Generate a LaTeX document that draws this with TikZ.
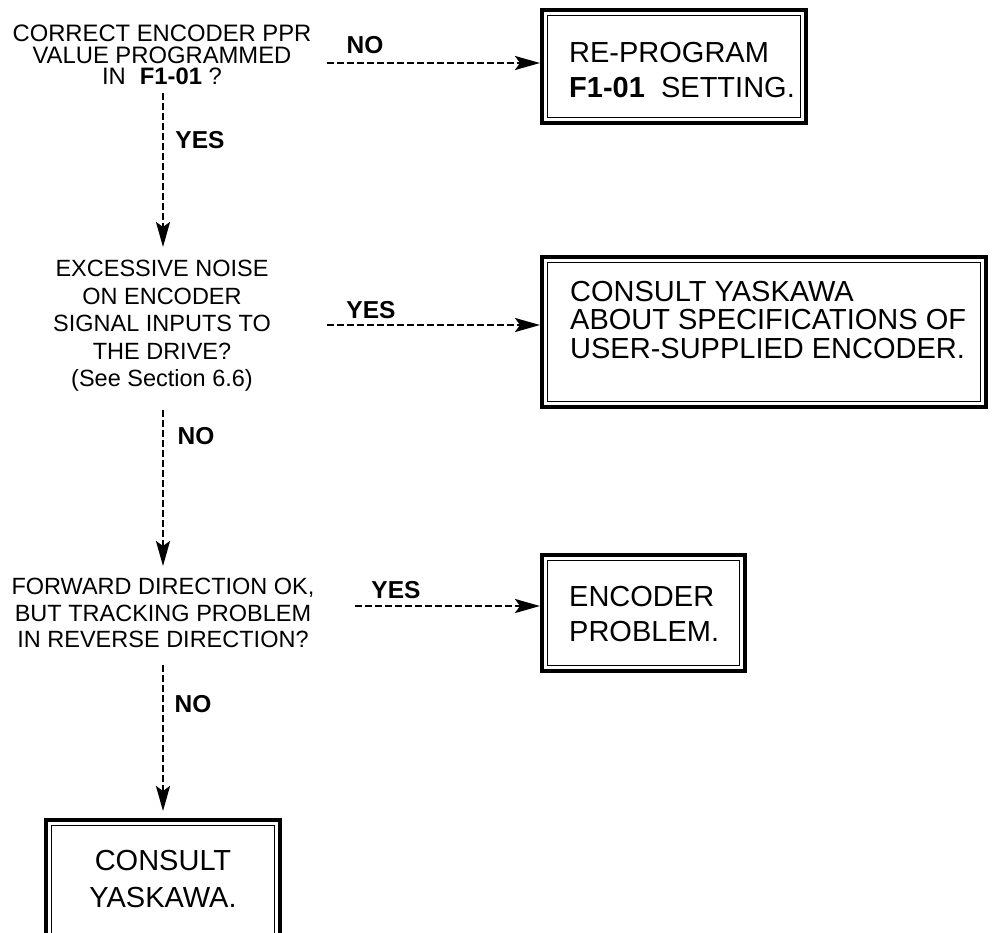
\documentclass[tikz,border=0pt]{standalone}
\usepackage{fontspec}
\setmainfont{Liberation Sans}
\usetikzlibrary{arrows.meta}
\begin{document}
\begin{tikzpicture}[x=1pt,y=-1pt,
  qtext/.style={align=center, inner sep=0pt},
  btext/.style={align=left, inner sep=0pt, anchor=west},
  lbl/.style={inner sep=0pt, font=\fontsize{24.5}{29}\selectfont\bfseries},
  dbox/.style={draw, line width=4pt, inner sep=0pt},
  inbox/.style={draw, line width=1.1pt},
  flow/.style={line width=2.5pt, dash pattern=on 6.5pt off 3.5pt,
    -{Stealth[length=25pt,width=14pt,inset=5pt]}},
]
\useasboundingbox (0,0) rectangle (992,932);

% question texts
\node[qtext, font=\fontsize{23.8}{21.5}\selectfont] (q1) at (162,55)
  {CORRECT ENCODER PPR\\VALUE PROGRAMMED\\IN\hspace{14pt}\textbf{F1-01} ?};
\node[qtext, font=\fontsize{23.5}{27.5}\selectfont] (q2) at (162,326)
  {EXCESSIVE NOISE\\ON ENCODER\\SIGNAL INPUTS TO\\THE DRIVE?\\(See Section 6.6)};
\node[qtext, font=\fontsize{23.5}{26.5}\selectfont] (q3) at (163,613)
  {FORWARD DIRECTION OK,\\BUT TRACKING PROBLEM\\IN REVERSE DIRECTION?};

% double boxes
\node[dbox, minimum width=264, minimum height=113] (b1) at (674,66.5) {};
\draw[inbox] ([shift={(7.5pt,-7.5pt)}]b1.north west) rectangle ([shift={(-7.5pt,7.5pt)}]b1.south east);
\node[dbox, minimum width=444, minimum height=150] (b2) at (764,332) {};
\draw[inbox] ([shift={(7.5pt,-7.5pt)}]b2.north west) rectangle ([shift={(-7.5pt,7.5pt)}]b2.south east);
\node[dbox, minimum width=203, minimum height=116] (b3) at (643.5,613) {};
\draw[inbox] ([shift={(7.5pt,-7.5pt)}]b3.north west) rectangle ([shift={(-7.5pt,7.5pt)}]b3.south east);
\node[dbox, minimum width=234, minimum height=148] (b4) at (163,894) {};
\draw[inbox] ([shift={(7.5pt,-7.5pt)}]b4.north west) rectangle ([shift={(-7.5pt,7.5pt)}]b4.south east);

% box texts
\node[btext, font=\fontsize{29}{35.5}\selectfont] (b1t) at (569,70)
  {RE-PROGRAM\\\textbf{F1-01}~~SETTING.};
\node[btext, font=\fontsize{29}{28.8}\selectfont] (b2t) at (570,320)
  {CONSULT YASKAWA\\ABOUT SPECIFICATIONS OF\\USER-SUPPLIED ENCODER.};
\node[btext, font=\fontsize{29}{35}\selectfont] (b3t) at (569,614)
  {ENCODER\\PROBLEM.};
\node[qtext, font=\fontsize{29}{37}\selectfont] (b4t) at (163,879)
  {CONSULT\\YASKAWA.};

% connectors
\coordinate (a1) at (327,63);
\draw[flow] (a1) -- (a1 -| b1.west);
\coordinate (a2) at (327,325);
\draw[flow] (a2) -- (a2 -| b2.west);
\coordinate (a3) at (355,606);
\draw[flow] (a3) -- (a3 -| b3.west);

\coordinate (v1) at (163,93);
\draw[flow] (v1) -- (v1 |- 0,247);
\coordinate (v2) at (163,410);
\draw[flow] (v2) -- (v2 |- 0,566);
\coordinate (v3) at (163,665);
\draw[flow] (v3) -- ([yshift=7pt]v3 |- b4.north);

% labels
\node[lbl] (l1) at (365,45) {NO};
\node[lbl] (l2) at (200,140) {YES};
\node[lbl] (l3) at (371,310) {YES};
\node[lbl] (l4) at (196,436) {NO};
\node[lbl] (l5) at (396,590) {YES};
\node[lbl] (l6) at (193,704) {NO};
\end{tikzpicture}
\end{document}
